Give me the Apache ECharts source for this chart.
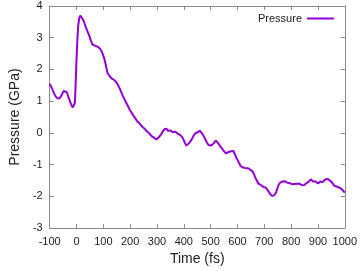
<!DOCTYPE html>
<html><head><meta charset="utf-8">
<script src="https://cdn.jsdelivr.net/npm/echarts@6/dist/echarts.min.js"></script>
<style>html,body{margin:0;padding:0;background:#fff}#c{width:360px;height:271px}</style>
</head><body><div id="c"></div>
<script>
var seriesName = 'Pressure';
// [time (fs), pressure (GPa)]
var pressureSamples = [
[-100,1.55],[-92,1.42],[-85,1.27],[-78,1.15],[-70,1.08],[-62,1.10],[-55,1.20],[-48,1.32],[-42,1.35],[-36,1.28],
[-28,1.08],[-20,0.90],[-14,0.80],[-9,0.77],[-6,0.95],[-3,1.60],[0,2.30],[3,2.90],[6,3.35],[10,3.62],[14,3.70],
[18,3.68],[24,3.58],[30,3.45],[36,3.30],[42,3.18],[48,3.05],[54,2.90],[60,2.78],[63,2.76],[66,2.74],[69,2.75],
[72,2.73],[75,2.74],[78,2.72],[81,2.70],[84,2.68],[87,2.66],[90,2.62],[93,2.58],[96,2.52],[99,2.46],
[102,2.38],[105,2.30],[108,2.18],[111,2.06],[114,1.95],[116,1.88],[118,1.84],[121,1.82],[124,1.79],[127,1.77],
[130,1.72],[133,1.73],[136,1.69],[139,1.68],[142,1.64],[145,1.65],[148,1.60],[151,1.57],[154,1.52],[157,1.49],
[160,1.42],[163,1.38],[166,1.30],[169,1.26],[172,1.18],[175,1.15],[178,1.08],[181,1.04],[184,0.97],[187,0.94],
[190,0.88],[193,0.85],[196,0.77],[199,0.74],[202,0.68],[205,0.66],[208,0.60],[211,0.58],[214,0.52],[217,0.50],
[220,0.45],[223,0.43],[226,0.37],[229,0.36],[232,0.31],[235,0.30],[238,0.25],[241,0.24],[244,0.20],[247,0.19],
[250,0.15],[253,0.14],[256,0.10],[259,0.09],[262,0.05],[265,0.04],[268,0.00],[271,-0.01],[274,-0.05],[277,-0.06],
[280,-0.10],[283,-0.11],[286,-0.15],[289,-0.15],[292,-0.19],[295,-0.18],[298,-0.21],[301,-0.18],[304,-0.19],[307,-0.14],
[310,-0.12],[313,-0.07],[316,-0.04],[319,0.01],[322,0.05],[325,0.07],[328,0.12],[331,0.11],[333,0.16],[336,0.13],
[338,0.12],[341,0.06],[344,0.05],[347,0.10],[350,0.08],[353,0.04],[356,0.06],[359,0.02],[362,0.03],[365,0.06],
[368,0.04],[371,0.01],[374,-0.01],[377,-0.02],[380,-0.04],[383,-0.03],[386,-0.06],[389,-0.07],[392,-0.10],[395,-0.14],
[398,-0.20],[401,-0.25],[404,-0.32],[407,-0.35],[410,-0.40],[413,-0.37],[416,-0.38],[419,-0.33],[422,-0.32],[425,-0.26],
[428,-0.25],[431,-0.18],[434,-0.15],[437,-0.08],[440,-0.06],[443,-0.01],[446,-0.02],[449,0.03],[452,0.02],[455,0.06],
[458,0.05],[460,0.07],[462,0.04],[465,0.02],[468,-0.02],[471,-0.05],[474,-0.10],[477,-0.14],[480,-0.20],[483,-0.24],
[486,-0.30],[489,-0.33],[492,-0.38],[495,-0.39],[498,-0.43],[501,-0.40],[504,-0.40],[507,-0.35],[510,-0.34],[513,-0.29],
[516,-0.28],[519,-0.24],[522,-0.26],[525,-0.28],[528,-0.32],[531,-0.35],[534,-0.40],[537,-0.42],[540,-0.46],[543,-0.50],
[546,-0.55],[549,-0.57],[552,-0.62],[555,-0.61],[558,-0.65],[561,-0.62],[564,-0.63],[567,-0.60],[570,-0.62],[573,-0.57],
[576,-0.58],[579,-0.54],[582,-0.56],[585,-0.57],[588,-0.62],[591,-0.68],[594,-0.75],[597,-0.79],[600,-0.85],[603,-0.90],
[606,-0.95],[609,-1.00],[612,-1.05],[615,-1.06],[618,-1.10],[621,-1.09],[624,-1.12],[627,-1.09],[630,-1.11],[633,-1.12],
[636,-1.14],[639,-1.11],[642,-1.13],[645,-1.12],[648,-1.16],[651,-1.15],[654,-1.18],[657,-1.22],[660,-1.28],[663,-1.33],
[666,-1.40],[669,-1.44],[672,-1.50],[675,-1.55],[678,-1.60],[681,-1.61],[684,-1.65],[687,-1.64],[690,-1.68],[693,-1.67],
[696,-1.70],[699,-1.69],[702,-1.73],[705,-1.72],[708,-1.76],[711,-1.78],[714,-1.82],[717,-1.86],[720,-1.90],[723,-1.92],
[726,-1.97],[729,-1.96],[732,-2.02],[735,-1.98],[738,-1.98],[741,-1.92],[744,-1.88],[747,-1.79],[750,-1.72],[753,-1.64],
[756,-1.60],[759,-1.57],[762,-1.56],[765,-1.52],[768,-1.53],[771,-1.49],[774,-1.50],[777,-1.52],[780,-1.54],[783,-1.53],
[786,-1.57],[789,-1.54],[792,-1.55],[795,-1.58],[798,-1.60],[801,-1.58],[804,-1.62],[807,-1.57],[810,-1.58],[813,-1.61],
[816,-1.62],[819,-1.58],[822,-1.60],[825,-1.62],[828,-1.64],[831,-1.60],[834,-1.62],[837,-1.63],[840,-1.65],[843,-1.60],
[846,-1.61],[849,-1.64],[852,-1.63],[855,-1.59],[858,-1.58],[861,-1.59],[864,-1.56],[867,-1.53],[870,-1.50],[873,-1.46],
[876,-1.47],[879,-1.51],[882,-1.53],[885,-1.52],[888,-1.56],[891,-1.53],[894,-1.55],[897,-1.57],[900,-1.59],[903,-1.55],
[906,-1.56],[909,-1.53],[912,-1.54],[915,-1.57],[918,-1.55],[921,-1.51],[924,-1.50],[927,-1.47],[930,-1.46],[933,-1.43],
[936,-1.45],[939,-1.46],[942,-1.48],[945,-1.50],[948,-1.52],[951,-1.55],[954,-1.58],[957,-1.62],[960,-1.66],[963,-1.69],
[966,-1.72],[969,-1.69],[972,-1.70],[975,-1.73],[978,-1.72],[981,-1.74],[984,-1.75],[987,-1.76],[990,-1.78],[993,-1.81],
[996,-1.84],[998,-1.83],[1000,-1.88]
];
var xTicks = {min:-100, max:1000, step:100};
var yTicks = {min:-3, max:4, step:1};

var font = 'Liberation Sans, Arial, sans-serif';
var frameColor = '#888';
function axisBase(show){
  return {
    axisLine:{show:true,onZero:false,lineStyle:{color:frameColor,width:1}},
    axisTick:{show:true,inside:true,length:4,lineStyle:{color:frameColor}},
    splitLine:{show:false},
    axisLabel:{show:show,color:'#222',fontFamily:font,fontSize:11,formatter:function(v){return String(v);}}
  };
}
var chart = echarts.init(document.getElementById('c'), null, {renderer:'canvas'});
var xa0 = Object.assign(axisBase(true), {type:'value',min:xTicks.min,max:xTicks.max,interval:xTicks.step,position:'bottom',
  name:'Time (fs)',nameLocation:'middle',nameGap:23,nameTextStyle:{color:'#222',fontFamily:font,fontSize:14}});
xa0.axisLabel.margin = 8;
var xa1 = Object.assign(axisBase(false), {type:'value',min:xTicks.min,max:xTicks.max,interval:xTicks.step,position:'top'});
var ya0 = Object.assign(axisBase(true), {type:'value',min:yTicks.min,max:yTicks.max,interval:yTicks.step,position:'left',
  name:'Pressure (GPa)',nameLocation:'middle',nameGap:22,nameTextStyle:{color:'#222',fontFamily:font,fontSize:14}});
ya0.axisLabel.margin = 7;
var ya1 = Object.assign(axisBase(false), {type:'value',min:yTicks.min,max:yTicks.max,interval:yTicks.step,position:'right'});
chart.setOption({
  animation:false,
  backgroundColor:'#fff',
  grid:{left:34,right:14,top:6,bottom:37,containLabel:false},
  legend:{show:true,right:21,top:8,align:'right',itemWidth:27,itemHeight:2,itemGap:5,
    textStyle:{color:'#222',fontFamily:font,fontSize:11},
    data:[{name:seriesName,icon:'rect'}]},
  xAxis:[xa0,xa1],
  yAxis:[ya0,ya1],
  series:[{name:seriesName,type:'line',data:pressureSamples,showSymbol:false,symbol:'none',
    lineStyle:{color:'#9400d3',width:2},itemStyle:{color:'#9400d3'},xAxisIndex:0,yAxisIndex:0}]
});
</script></body></html>
